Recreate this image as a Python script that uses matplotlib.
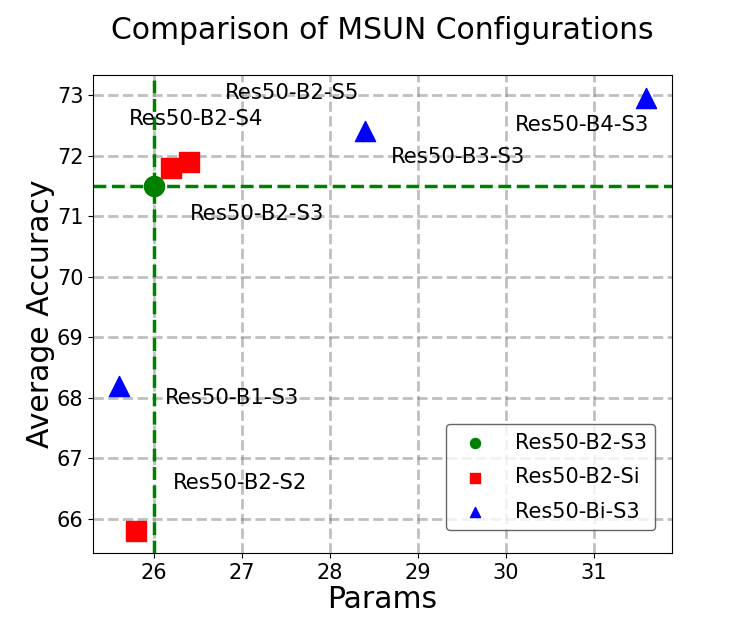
import matplotlib
matplotlib.use("Agg")
import matplotlib.pyplot as plt

# baseline config
base_name = "Res50-B2-S3"
base_params = [26.0]
base_acc = [71.5]

# varying number of stages
si_names = ["Res50-B2-S2", "Res50-B2-S4", "Res50-B2-S5"]
si_params = [25.8, 26.2, 26.4]
si_acc = [65.8, 71.8, 71.9]

# varying number of branches
bi_names = ["Res50-B1-S3", "Res50-B3-S3", "Res50-B4-S3"]
bi_params = [25.6, 28.4, 31.6]
bi_acc = [68.2, 72.4, 72.95]

# where the name labels sit
label_names = ["Res50-B2-S5", "Res50-B2-S4", "Res50-B3-S3", "Res50-B4-S3",
               "Res50-B2-S3", "Res50-B1-S3", "Res50-B2-S2"]
label_x = [26.81, 25.72, 28.7, 30.1, 26.41, 26.13, 26.22]
label_y = [73.03, 72.6, 71.98, 72.5, 71.03, 68.0, 66.6]

fig = plt.figure(figsize=(7.47, 6.23), dpi=100)
ax = fig.add_axes([0.1245, 0.1124, 0.7751, 0.7672])

ax.grid(True, linestyle="--", linewidth=2, color="gray", alpha=0.5)
ax.set_axisbelow(True)

ax.axhline(base_acc[0], color="green", linestyle="--", linewidth=2.5, zorder=2)
ax.axvline(base_params[0], color="green", linestyle="--", linewidth=2.5, zorder=2)

ax.scatter(base_params, base_acc, color="green", marker="o", s=210, label="Res50-B2-S3", zorder=3)
ax.scatter(si_params, si_acc, color="red", marker="s", s=210, label="Res50-B2-Si", zorder=3)
ax.scatter(bi_params, bi_acc, color="blue", marker="^", s=210, label="Res50-Bi-S3", zorder=3)

for name, x, y in zip(label_names, label_x, label_y):
    ax.text(x, y, name, fontsize=15.3, ha="left", va="center")

ax.set_xlim(25.31, 31.89)
ax.set_ylim(65.44, 73.33)
ax.set_xticks([26, 27, 28, 29, 30, 31])
ax.set_yticks([66, 67, 68, 69, 70, 71, 72, 73])
ax.tick_params(labelsize=15)

ax.set_xlabel("Params", fontsize=21.5, labelpad=2)
ax.set_ylabel("Average Accuracy", fontsize=21.5, labelpad=1)
ax.set_title("Comparison of MSUN Configurations", fontsize=21.5, pad=26)

leg = ax.legend(loc="lower right", bbox_to_anchor=(0.971, 0.048), borderaxespad=0,
                fontsize=15, markerscale=0.5, borderpad=0.4, labelspacing=0.7,
                handletextpad=0.9)
leg.get_frame().set_edgecolor("0.25")

plt.savefig("out.png", dpi=100)
